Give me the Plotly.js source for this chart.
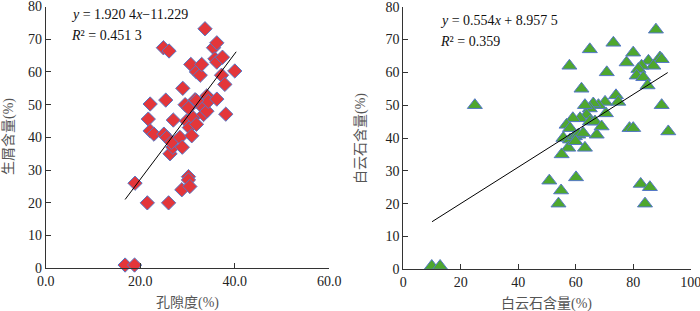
<!DOCTYPE html>
<html>
<head>
<meta charset="utf-8">
<script src="https://cdn.plot.ly/plotly-3.0.1.min.js"></script>
<style>html,body{margin:0;padding:0;background:#fff;}#chart{width:700px;height:311px;}</style>
</head>
<body>
<div id="chart"></div>
<script>
// Left panel: porosity (%) vs bioclast content (%)
var porosity = [16.8,18.8,18.9,21.5,26.0,22.1,21.7,22.1,22.9,25.4,25.0,25.6,24.9,26.1,27.0,26.3,26.9,26.6,28.4,28.9,28.8,29.0,29.5,29.8,30.2,30.2,30.2,30.5,30.4,30.9,30.7,31.2,31.6,31.9,31.9,32.7,33.0,33.0,33.4,33.7,34.1,34.1,34.4,35.5,35.8,36.2,36.2,36.2,37.2,37.4,37.9,38.1,40.0,31.9];
var bioclast = [1,1,26,20,20,50.2,45.6,42,41,51.4,41,40,67.4,66.4,45.3,35,37,38.5,40,37,24,55,50,45,49,28,27,25,43,40.5,62.3,46,51.5,44,60,59,62.3,49.5,47,73.2,48,52.7,51,67.4,64,63,68.9,51.7,59,64.5,56.2,47.1,60.3,51.2];
// Right panel: dolomite content (%) vs dolomite content (%)
var dolomiteX = [9.9,12.8,24.9,50.8,54.9,54.0,60.1,57.8,64.9,73.1,70.8,62.0,80.0,77.7,87.9,89.3,89.9,85.3,87.0,82.9,81.8,81.2,83.5,85.0,89.9,92.2,78.7,80.0,82.6,85.8,84.1,74.0,74.8,70.2,70.5,67.9,66.1,64.9,63.8,63.2,61.5,59.0,56.8,58.0,55.7,58.0,59.7,60.9,62.6,64.9,66.7,67.3,69.0,63.2,57.4,55.1,59.9];
var dolomiteY = [1,1,50,27,24,20,28,62,67,69,60,55,66,63,73,64.5,64,63.5,62,62,61,59,58.5,56,50,42,43,43,26,25,20,53,51,51,47.5,50,50.5,49,47,50,46,46,44,43,40,39.5,40.5,41,41.5,45,45,41,43.5,37,37,35,39];
// Linear fits
var fitSlope = [1.9204, 0.554];
var fitIntercept = [-11.229, 8.9575];
var fitXRange = [[16.8, 40.3], [10, 92]];
var eqTexts = ['<i>y</i> = 1.920 4<i>x</i>−11.229', '<i>y</i> = 0.554<i>x</i> + 8.957 5'];
var r2Texts = ['<i>R</i>² = 0.451 3', '<i>R</i>² = 0.359'];
var xTitles = ['孔隙度(%)', '白云石含量(%)'];
var yTitles = ['生屑含量(%)', '白云石含量(%)'];
var leftXTicks = [0, 20, 40, 60];
var leftXTickText = ['0.0', '20.0', '40.0', '60.0'];

function fitLine(i){
  var xs = fitXRange[i];
  return xs.map(function(x){ return fitSlope[i]*x + fitIntercept[i]; });
}

var FONT = 'Liberation Serif, Times New Roman, Noto Sans CJK SC, serif';
var outline = '#5578c8';

var traces = [
  {x: porosity, y: bioclast, type: 'scatter', mode: 'markers', xaxis: 'x', yaxis: 'y', cliponaxis: false,
   marker: {symbol: 'diamond', size: 11, color: '#e3363a', line: {color: outline, width: 1}}},
  {x: fitXRange[0], y: fitLine(0), type: 'scatter', mode: 'lines', xaxis: 'x', yaxis: 'y',
   line: {color: '#000', width: 1}},
  {x: dolomiteX, y: dolomiteY, type: 'scatter', mode: 'markers', xaxis: 'x2', yaxis: 'y2', cliponaxis: false,
   marker: {symbol: 'triangle-up', size: 13, color: '#4ea72e', line: {color: outline, width: 1}}},
  {x: fitXRange[1], y: fitLine(1), type: 'scatter', mode: 'lines', xaxis: 'x2', yaxis: 'y2',
   line: {color: '#000', width: 1}}
];

var axisCommon = {
  showgrid: false, zeroline: false, showline: true, linecolor: '#333', linewidth: 1,
  ticks: 'inside', ticklen: 5, tickcolor: '#333', tickwidth: 1, ticklabeloverflow: 'allow',
  tickfont: {family: FONT, size: 14, color: '#222'}, fixedrange: true
};
function ax(extra){ return Object.assign({}, axisCommon, extra); }

var annos = [];
function addText(text, x, y, opts){
  annos.push(Object.assign({text: text, x: x/700, y: (311-y)/311, xref: 'paper', yref: 'paper',
    showarrow: false, xanchor: 'left', yanchor: 'middle',
    font: {family: FONT, size: 14, color: '#111'}}, opts || {}));
}
addText(eqTexts[0], 69, 15);
addText(r2Texts[0], 69, 36);
addText(eqTexts[1], 438, 21);
addText(r2Texts[1], 438, 41);
addText(xTitles[0], 187, 303, {xanchor: 'center', font: {family: FONT, size: 14, color: '#555'}});
addText(xTitles[1], 546, 304, {xanchor: 'center', font: {family: FONT, size: 14, color: '#555'}});
addText(yTitles[0], 9, 137, {xanchor: 'center', textangle: -90, font: {family: FONT, size: 14, color: '#555'}});
addText(yTitles[1], 361, 139, {xanchor: 'center', textangle: -90, font: {family: FONT, size: 14, color: '#555'}});

var layout = {
  width: 700, height: 311, margin: {l: 0, r: 0, t: 0, b: 0},
  paper_bgcolor: '#fff', plot_bgcolor: '#fff', showlegend: false,
  xaxis: ax({domain: [45.7/700, 329.3/700], range: [0, 60], tickvals: leftXTicks, ticktext: leftXTickText, anchor: 'y'}),
  yaxis: ax({domain: [(311-268.3)/311, (311-6.5)/311], range: [0, 80], dtick: 10, anchor: 'x'}),
  xaxis2: ax({domain: [403.3/700, 690.7/700], range: [0, 100], dtick: 20, anchor: 'y2'}),
  yaxis2: ax({domain: [(311-269.3)/311, (311-6.7)/311], range: [0, 80], dtick: 10, anchor: 'x2'}),
  annotations: annos
};

Plotly.newPlot('chart', traces, layout, {displayModeBar: false, staticPlot: true});
</script>
</body>
</html>
